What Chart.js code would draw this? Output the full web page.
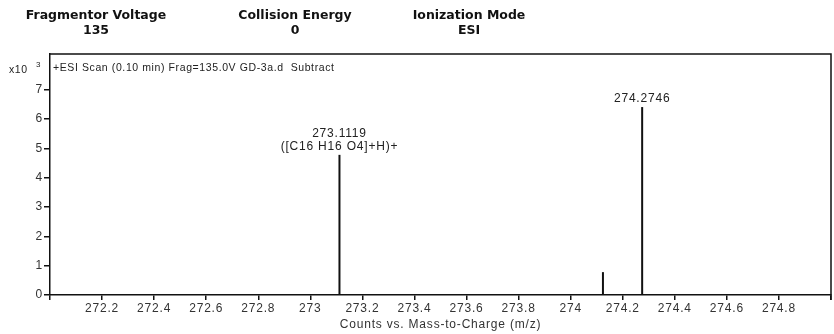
<!DOCTYPE html>
<html>
<head>
<meta charset="utf-8">
<script src="https://cdn.jsdelivr.net/npm/chart.js@4/dist/chart.umd.min.js"></script>
<style>
  html, body { margin: 0; padding: 0; background: #fff; }
  #wrap { width: 834px; height: 334px; }
</style>
</head>
<body>
<div id="wrap"><canvas id="msChart" width="834" height="334"></canvas></div>
<script>
// spectrum peaks (m/z, counts x10^3)
const peakMz = [273.1119, 274.124, 274.2746];
const peakCounts = [4.78, 0.78, 6.41];
const peakLabels = [['273.1119', '([C16 H16 O4]+H)+'], [], ['274.2746']];

const xTicks = [272, 272.2, 272.4, 272.6, 272.8, 273, 273.2, 273.4, 273.6, 273.8, 274, 274.2, 274.4, 274.6, 274.8, 275];
const xTickLabels = ['', '272.2', '272.4', '272.6', '272.8', '273', '273.2', '273.4', '273.6', '273.8', '274', '274.2', '274.4', '274.6', '274.8', ''];
const yTicks = [0, 1, 2, 3, 4, 5, 6, 7];

const headerNames = ['Fragmentor Voltage', 'Collision Energy', 'Ionization Mode'];
const headerValues = ['135', '0', 'ESI'];
const headerCenters = [96, 295, 469];

const scanTitle = '+ESI Scan (0.10 min) Frag=135.0V GD-3a.d  Subtract';

const FONT = '"Liberation Sans", Arial, sans-serif';
const BOLD_FONT = '"DejaVu Sans", Verdana, sans-serif';
const SPACING = '0.8px';

// one two-point line per stick, from the baseline up to the intensity
const datasets = peakMz.map((mz, i) => ({
    data: [{ x: mz, y: 0 }, { x: mz, y: peakCounts[i] }],
    borderColor: '#111',
    borderWidth: 2,
    pointRadius: 0,
    showLine: true,
}));

const decorations = {
    id: 'decorations',
    beforeDraw(chart) {
        // looser tracking for the axis text
        chart.ctx.letterSpacing = SPACING;
    },
    afterDraw(chart) {
        const { ctx, chartArea: a, scales } = chart;
        ctx.save();

        // frame top and right
        ctx.strokeStyle = '#111';
        ctx.lineWidth = 1.5;
        ctx.beginPath();
        ctx.moveTo(a.left, a.top);
        ctx.lineTo(a.right, a.top);
        ctx.lineTo(a.right, a.bottom + 5);
        ctx.stroke();

        // header block
        ctx.letterSpacing = '0px';
        ctx.fillStyle = '#111';
        ctx.textAlign = 'center';
        ctx.textBaseline = 'middle';
        headerNames.forEach((name, i) => {
            ctx.font = 'bold 12.5px ' + BOLD_FONT;
            ctx.fillText(name, headerCenters[i], 16);
            ctx.fillText(headerValues[i], headerCenters[i], 31);
        });

        // scan description and exponent
        ctx.letterSpacing = '0.6px';
        ctx.font = '10.5px ' + FONT;
        ctx.textAlign = 'left';
        ctx.fillStyle = '#222';
        ctx.fillText(scanTitle, a.left + 3, 68);
        ctx.fillText('x10', 9, 70);
        ctx.font = '8px ' + FONT;
        ctx.fillText('3', 36, 65);

        // peak annotations
        ctx.letterSpacing = SPACING;
        ctx.font = '12px ' + FONT;
        ctx.textAlign = 'center';
        peakMz.forEach((mz, i) => {
            const lines = peakLabels[i];
            if (!lines.length) return;
            const px = scales.x.getPixelForValue(mz);
            const top = scales.y.getPixelForValue(peakCounts[i]);
            lines.forEach((t, j) => {
                ctx.fillText(t, px, top - 8 - (lines.length - 1 - j) * 13.5);
            });
        });
        ctx.restore();
    },
};

new Chart(document.getElementById('msChart'), {
    type: 'scatter',
    data: { datasets },
    options: {
        responsive: false,
        animation: false,
        events: [],
        layout: { padding: { top: 54, right: 3, left: 0, bottom: 0 } },
        plugins: { legend: { display: false }, tooltip: { enabled: false } },
        scales: {
            x: {
                type: 'linear',
                min: 272,
                max: 275,
                afterBuildTicks: s => { s.ticks = xTicks.map(v => ({ value: v })); },
                afterFit: s => { s.height = 39; },
                ticks: {
                    autoSkip: false,
                    maxRotation: 0,
                    padding: 1,
                    color: '#333',
                    font: { family: FONT, size: 12 },
                    callback: (v, i) => xTickLabels[i],
                },
                grid: { drawOnChartArea: false, tickLength: 5, color: '#111', lineWidth: 1.5 },
                border: { color: '#111', width: 1.5 },
                title: {
                    display: true,
                    text: 'Counts vs. Mass-to-Charge (m/z)',
                    color: '#333',
                    font: { family: FONT, size: 12 },
                    padding: { top: 0, bottom: 2 },
                },
            },
            y: {
                min: 0,
                max: 8.22,
                afterBuildTicks: s => { s.ticks = yTicks.map(v => ({ value: v })); },
                afterFit: s => { s.width = 50; },
                ticks: {
                    padding: 1,
                    color: '#333',
                    font: { family: FONT, size: 12 },
                },
                grid: { drawOnChartArea: false, tickLength: 6, color: '#111', lineWidth: 1.5 },
                border: { color: '#111', width: 1.5 },
            },
        },
    },
    plugins: [decorations],
});
</script>
</body>
</html>
